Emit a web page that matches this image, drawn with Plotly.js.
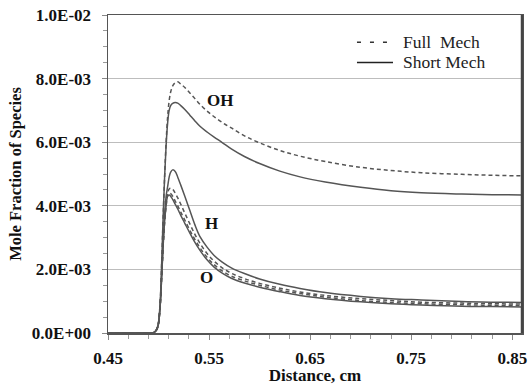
<!DOCTYPE html>
<html>
<head>
<meta charset="utf-8">
<script src="https://cdn.plot.ly/plotly-3.0.1.min.js"></script>
<style>html,body{margin:0;padding:0;background:#fff;}#chart{width:531px;height:385px;}</style>
</head>
<body>
<div id="chart"></div>
<script>
// Distance, cm (shared x grid)
const distance = [0.45, 0.49, 0.495, 0.4975, 0.4995, 0.5015, 0.503, 0.5045, 0.506, 0.5075, 0.509, 0.5105, 0.512, 0.514, 0.5165, 0.519, 0.522, 0.526, 0.531, 0.536, 0.541, 0.548, 0.555, 0.563, 0.572, 0.585, 0.60, 0.62, 0.64, 0.665, 0.70, 0.73, 0.76, 0.80, 0.83, 0.86];

const ohFull  = [0, 0, 0.00001, 0.00008, 0.00025, 0.0009, 0.0021, 0.0036, 0.0049, 0.006, 0.0068, 0.0073, 0.00758, 0.00777, 0.00787, 0.0079, 0.00783, 0.00772, 0.00755, 0.00737, 0.00719, 0.00698, 0.0068, 0.00662, 0.00645, 0.0062, 0.00598, 0.00574, 0.00556, 0.00539, 0.00521, 0.00511, 0.00504, 0.00499, 0.00496, 0.00494];
const ohShort = [0, 0, 0.00001, 0.00008, 0.00025, 0.0009, 0.0021, 0.0036, 0.0049, 0.0059, 0.0066, 0.007, 0.00715, 0.00722, 0.00725, 0.00723, 0.00715, 0.00703, 0.00685, 0.00667, 0.0065, 0.00632, 0.00616, 0.00599, 0.00579, 0.00555, 0.00533, 0.00509, 0.00491, 0.00475, 0.00458, 0.00447, 0.00441, 0.00437, 0.00435, 0.00434];
const hShort  = [0, 0, 0.00001, 0.00007, 0.00022, 0.0008, 0.0017, 0.0028, 0.0037, 0.0043, 0.0046, 0.0049, 0.00506, 0.00513, 0.00508, 0.0049, 0.00465, 0.0043, 0.00385, 0.0034, 0.00303, 0.0027, 0.00244, 0.00223, 0.00205, 0.00187, 0.0017, 0.00153, 0.0014, 0.00127, 0.00115, 0.00108, 0.00104, 0.00099, 0.00097, 0.00096];
const hFull   = [0, 0, 0.00001, 0.00007, 0.00022, 0.0008, 0.0017, 0.0027, 0.0035, 0.0041, 0.0044, 0.00453, 0.00455, 0.00452, 0.0044, 0.00425, 0.00405, 0.00377, 0.00343, 0.0031, 0.00282, 0.0025, 0.00226, 0.00205, 0.00188, 0.00171, 0.00156, 0.00141, 0.00129, 0.00118, 0.00108, 0.00102, 0.00097, 0.00094, 0.00092, 0.00091];
const oFull   = [0, 0, 0.00001, 0.00007, 0.00022, 0.0008, 0.0017, 0.0027, 0.0035, 0.004, 0.00432, 0.0044, 0.00438, 0.0043, 0.00415, 0.004, 0.0038, 0.00355, 0.00323, 0.00294, 0.00268, 0.00238, 0.00215, 0.00195, 0.00179, 0.00164, 0.0015, 0.00135, 0.00124, 0.00113, 0.00102, 0.00096, 0.00092, 0.00089, 0.00087, 0.00086];
const oShort  = [0, 0, 0.00001, 0.00007, 0.00022, 0.0008, 0.0017, 0.0027, 0.0035, 0.004, 0.0043, 0.00434, 0.0043, 0.0042, 0.00405, 0.0039, 0.0037, 0.00345, 0.00314, 0.00285, 0.0026, 0.0023, 0.00207, 0.00188, 0.00172, 0.00157, 0.00144, 0.0013, 0.00118, 0.00108, 0.00098, 0.00092, 0.00088, 0.00084, 0.00083, 0.00082];

const xTickVals = [0.45, 0.55, 0.65, 0.75, 0.85];
const xTickText = ['0.45', '0.55', '0.65', '0.75', '0.85'];
const yTickVals = [0, 0.002, 0.004, 0.006, 0.008, 0.01];
const yTickText = ['0.0E+00', '2.0E-03', '4.0E-03', '6.0E-03', '8.0E-03', '1.0E-02'];

const speciesLabels = ['OH', 'H', 'O'];
const labelX = [0.5609, 0.5525, 0.5475];
const labelY = [0.0073, 0.00343, 0.00173];

const legendNames = ['Full  Mech', 'Short Mech'];

const curveColor = '#555555';
const serif = '"Liberation Serif", "Times New Roman", serif';

function tr(y, dashed) {
  return {
    x: distance, y: y, type: 'scatter', mode: 'lines',
    line: {color: curveColor, width: 1.5, dash: dashed ? '4px,3px' : 'solid', shape: 'spline', smoothing: 1},
    showlegend: false, hoverinfo: 'skip'
  };
}

const data = [
  tr(ohFull, true), tr(ohShort, false),
  tr(hFull, true), tr(hShort, false),
  tr(oFull, true), tr(oShort, false)
];

const annotations = speciesLabels.map((t, i) => ({
  x: labelX[i], y: labelY[i], xref: 'x', yref: 'y', text: t, showarrow: false,
  font: {family: serif, size: 17, color: '#111', weight: 'bold'}
}));
// legend text
annotations.push({x: 0.7077, y: 0.916, xref: 'paper', yref: 'paper', xanchor: 'left', yanchor: 'middle',
  text: legendNames[0], showarrow: false, font: {family: serif, size: 17.5, color: '#222'}});
annotations.push({x: 0.7077, y: 0.853, xref: 'paper', yref: 'paper', xanchor: 'left', yanchor: 'middle',
  text: legendNames[1], showarrow: false, font: {family: serif, size: 17.5, color: '#222'}});

const layout = {
  width: 531, height: 385,
  margin: {l: 108, r: 9, t: 15, b: 52},
  paper_bgcolor: '#fff', plot_bgcolor: '#fff',
  showlegend: false,
  xaxis: {
    range: [0.45, 0.8596], tickmode: 'array', tickvals: xTickVals, ticktext: xTickText,
    ticks: 'outside', ticklen: 5, tickcolor: '#888', tickwidth: 1,
    showline: true, linecolor: '#555', linewidth: 1.5, mirror: true,
    showgrid: false, zeroline: false,
    tickfont: {family: serif, size: 17, color: '#111', weight: 'bold'},
    ticklabelstandoff: 4,
    minor: {tickmode: 'linear', tick0: 0.45, dtick: 0.02, ticks: 'outside', ticklen: 4, tickcolor: '#999', showgrid: false},
    title: {text: 'Distance, cm', font: {family: serif, size: 17, color: '#111', weight: 'bold'}, standoff: 0}
  },
  yaxis: {
    range: [0, 0.01], tickmode: 'array', tickvals: yTickVals, ticktext: yTickText,
    ticks: 'outside', ticklen: 5, tickcolor: '#888', tickwidth: 1,
    showline: true, linecolor: '#555', linewidth: 1.5, mirror: true,
    showgrid: true, gridcolor: '#bdbdbd', gridwidth: 1, zeroline: false,
    tickfont: {family: serif, size: 17, color: '#111', weight: 'bold'},
    ticklabelstandoff: 7,
    minor: {tickmode: 'linear', tick0: 0, dtick: 0.0005, ticks: 'outside', ticklen: 4, tickcolor: '#999', showgrid: false},
    title: {text: 'Mole Fraction of Species', font: {family: serif, size: 16.5, color: '#111', weight: 'bold'}, standoff: 6}
  },
  annotations: annotations,
  shapes: [
    {type: 'line', xref: 'paper', yref: 'paper', x0: 1, x1: 1, y0: 0, y1: 1, line: {color: '#444', width: 2.5}},
    {type: 'line', xref: 'paper', yref: 'paper', x0: 0.6014, x1: 0.6739, y0: 0.9142, y1: 0.9142, line: {color: '#333', width: 1.5, dash: '4px,9px'}},
    {type: 'line', xref: 'paper', yref: 'paper', x0: 0.6014, x1: 0.6884, y0: 0.8506, y1: 0.8506, line: {color: '#222', width: 1.5}}
  ]
};

Plotly.newPlot('chart', data, layout, {displayModeBar: false, staticPlot: true});
</script>
</body>
</html>
